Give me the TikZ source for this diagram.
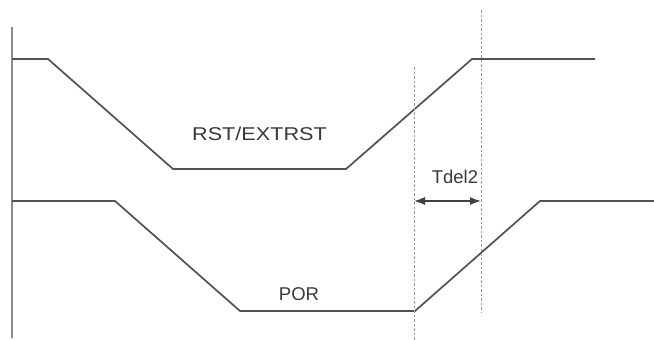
\documentclass[tikz,border=0pt]{standalone}
\usepackage{fontspec}
\setmainfont{Liberation Sans}
\usetikzlibrary{arrows.meta}
\begin{document}
\begin{tikzpicture}[x=1pt,y=-1pt,
  sig/.style={draw=black!68,line width=1.7pt,line join=round},
  axis/.style={draw=black!45,line width=1.3pt},
  guide/.style={draw=black!40,line width=0.8pt,dash pattern=on 2.5pt off 2pt},
  lbl/.style={text=black!78,font=\fontsize{18.5}{18.5}\selectfont,inner sep=0pt,anchor=base},
  dim/.style={draw=black!75,line width=1.3pt,{Latex[length=11pt,width=8pt]}-{Latex[length=11pt,width=8pt]}}]
\useasboundingbox (0,0) rectangle (654,340);
% axis
\coordinate (ax0) at (12,27);
\coordinate (ax1) at (12,338);
\draw[axis] (ax0) -- (ax1);
% RST/EXTRST waveform
\coordinate (r0) at (12,59);
\coordinate (r1) at (48,59);
\coordinate (r2) at (173,169);
\coordinate (r3) at (346,169);
\coordinate (r4) at (472,59);
\coordinate (r5) at (595,59);
\draw[sig] (r0) -- (r1) -- (r2) -- (r3) -- (r4) -- (r5);
% POR waveform
\coordinate (p0) at (12,201);
\coordinate (p1) at (115,201);
\coordinate (p2) at (240,311);
\coordinate (p3) at (415,311);
\coordinate (p4) at (540,201);
\coordinate (p5) at (654,201);
\draw[sig] (p0) -- (p1) -- (p2) -- (p3) -- (p4) -- (p5);
% dashed guides
\coordinate (g1a) at (414,67);
\coordinate (g1b) at (414,340);
\coordinate (g2a) at (481,10);
\coordinate (g2b) at (481,312);
\draw[guide] (g1a) -- (g1b);
\draw[guide] (g2a) -- (g2b);
% dimension arrow
\coordinate (d0) at (414,201);
\coordinate (d1) at (481,201);
\draw[dim] (d0) -- (d1);
% labels
\node[lbl,xscale=1.17] (rst) at (259.5,140) {RST/EXTRST};
\node[lbl] (por) at (299,300) {POR};
\node[lbl] (tdel) at (455,183) {Tdel2};
\end{tikzpicture}
\end{document}
